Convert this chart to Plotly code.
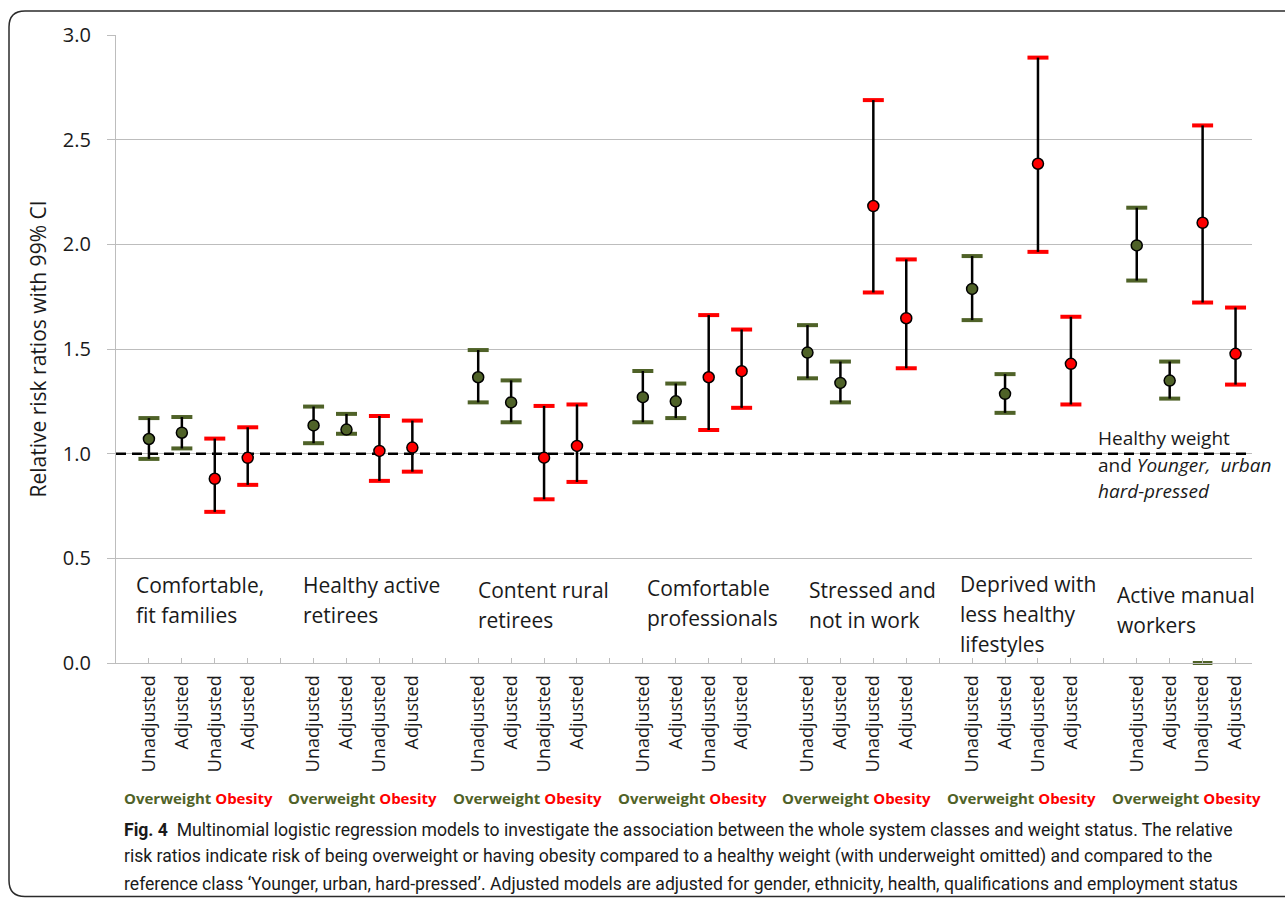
import plotly.graph_objects as go

# ---------------- data ----------------
groups = [
    ["Comfortable,", "fit families"],
    ["Healthy active", "retirees"],
    ["Content rural", "retirees"],
    ["Comfortable", "professionals"],
    ["Stressed and", "not in work"],
    ["Deprived with", "less healthy", "lifestyles"],
    ["Active manual", "workers"],
]
slot_labels = ["Unadjusted", "Adjusted", "Unadjusted", "Adjusted"]

# Overweight: per group [unadjusted, adjusted]
ow_est = [1.070, 1.100, 1.135, 1.115, 1.365, 1.245, 1.270, 1.250, 1.483, 1.338, 1.787, 1.286, 1.995, 1.349]
ow_lo = [0.975, 1.025, 1.050, 1.095, 1.245, 1.150, 1.150, 1.170, 1.360, 1.245, 1.638, 1.195, 1.827, 1.263]
ow_hi = [1.170, 1.175, 1.225, 1.190, 1.495, 1.350, 1.395, 1.335, 1.614, 1.440, 1.944, 1.380, 2.175, 1.440]

# Obesity: per group [unadjusted, adjusted]
ob_est = [0.880, 0.980, 1.013, 1.029, 0.981, 1.037, 1.365, 1.394, 2.183, 1.647, 2.385, 1.429, 2.103, 1.477]
ob_lo = [0.722, 0.851, 0.870, 0.914, 0.782, 0.865, 1.113, 1.219, 1.770, 1.408, 1.964, 1.235, 1.722, 1.330]
ob_hi = [1.072, 1.126, 1.180, 1.158, 1.228, 1.235, 1.662, 1.593, 2.689, 1.928, 2.892, 1.654, 2.568, 1.698]

ref_value = 1.0
ref_label = ["Healthy weight", "and <i>Younger,&nbsp; urban</i>", "<i>hard-pressed</i>"]

# stray overweight-coloured cap sitting at zero in the last group
stray_group = [6]
stray_slot = [2]
stray_value = [0.0]

caption = [
    "<b>Fig. 4</b>&nbsp; Multinomial logistic regression models to investigate the association between the whole system classes and weight status. The relative",
    "risk ratios indicate risk of being overweight or having obesity compared to a healthy weight (with underweight omitted) and compared to the",
    "reference class \u2018Younger, urban, hard-pressed\u2019. Adjusted models are adjusted for gender, ethnicity, health, qualifications and employment status",
]

# ---------------- styling ----------------
GREEN = "#4F6228"
RED = "#FF0000"
TXT = "#1a1a1a"
GRID = "#bdbdbd"
FONT = "Open Sans"

W, H = 1285, 900
L, R, T = 116, 33, 35
Y0 = 662.6  # pixel of y=0
B = H - Y0
PW, PH = W - L - R, Y0 - T
X_MAX = 34.5


def px(X):
    return (X - L) / PW


def py(Y):
    return (Y0 - Y) / PH


SLOT = 5
ow_x = [1 + SLOT * g + k for g in range(len(groups)) for k in (0, 1)]
ob_x = [1 + SLOT * g + k for g in range(len(groups)) for k in (2, 3)]

fig = go.Figure()

# reference (healthy weight) line
fig.add_trace(go.Scatter(
    x=[0, X_MAX - 0.05], y=[ref_value, ref_value], mode="lines", hoverinfo="skip", showlegend=False,
    line=dict(color="black", width=2.5, dash="10px,6px"),
))

# caps
for xs, lo, hi, col in [(ow_x, ow_lo, ow_hi, GREEN), (ob_x, ob_lo, ob_hi, RED)]:
    fig.add_trace(go.Scatter(
        x=xs + xs, y=lo + hi, mode="markers", hoverinfo="skip", showlegend=False,
        marker=dict(symbol="line-ew", size=15, line=dict(color=col, width=4)),
    ))

# stray cap
fig.add_trace(go.Scatter(
    x=[1 + SLOT * g + s for g, s in zip(stray_group, stray_slot)], y=stray_value,
    mode="markers", hoverinfo="skip", showlegend=False, cliponaxis=False,
    marker=dict(symbol="line-ew", size=14, line=dict(color=GREEN, width=4)),
))

# points with black stems
for xs, est, lo, hi, col, name in [(ow_x, ow_est, ow_lo, ow_hi, GREEN, "Overweight"),
                                    (ob_x, ob_est, ob_lo, ob_hi, RED, "Obesity")]:
    fig.add_trace(go.Scatter(
        x=xs, y=est, mode="markers", name=name, showlegend=False,
        marker=dict(symbol="circle", size=11, color=col, line=dict(color="black", width=1.5)),
        error_y=dict(type="data", symmetric=False,
                     array=[h - e for h, e in zip(hi, est)],
                     arrayminus=[e - l for e, l in zip(est, lo)],
                     color="black", thickness=2.5, width=0),
    ))

n_ticks = SLOT * len(groups)
tickvals = list(range(0, n_ticks))
ticktext = [""] + [(slot_labels[(i - 1) % SLOT] if (i - 1) % SLOT < 4 else "") for i in range(1, n_ticks)]

annotations = []
# group labels inside plot
label_pos = [(134, 585), (301, 585), (476, 590), (645, 588), (807, 590), (958, 584), (1115, 595)]
for lines, (lx, ly) in zip(groups, label_pos):
    for j, line in enumerate(lines):
        annotations.append(dict(
            x=px(lx), y=py(ly + 30 * j), xref="paper", yref="paper", text=line,
            showarrow=False, xanchor="left", yanchor="middle",
            font=dict(family=FONT, size=21, color=TXT),
        ))

# reference label
for j, line in enumerate(ref_label):
    annotations.append(dict(
        x=px(1096), y=py(438 + 26.5 * j), xref="paper", yref="paper", text=line,
        showarrow=False, xanchor="left", yanchor="middle",
        font=dict(family=FONT, size=19, color=TXT),
    ))

# Overweight / Obesity under each group
for g in range(len(groups)):
    cx = 2.5 + SLOT * g
    annotations.append(dict(
        x=cx, y=py(798), xref="x", yref="paper",
        text=f"<b><span style='color:{GREEN}'>Overweight</span> <span style='color:{RED}'>Obesity</span></b>",
        showarrow=False, xanchor="center", yanchor="middle",
        font=dict(family=FONT, size=15),
    ))

# caption
for j, line in enumerate(caption):
    annotations.append(dict(
        x=px(122), y=py(829 + 27 * j), xref="paper", yref="paper", text=line,
        showarrow=False, xanchor="left", yanchor="middle",
        font=dict(family="Roboto", size=17.6, color=TXT),
    ))

# frame path (rounded)
fl, ft, fr, fb, rad = 9, 11, 1300, 896, 16
path = (f"M {px(fr)},{py(ft)} L {px(fl + rad)},{py(ft)} Q {px(fl)},{py(ft)} {px(fl)},{py(ft + rad)} "
        f"L {px(fl)},{py(fb - rad)} Q {px(fl)},{py(fb)} {px(fl + rad)},{py(fb)} L {px(fr)},{py(fb)}")

shapes = [
    dict(type="path", xref="paper", yref="paper", path=path,
         line=dict(color="#2b2b2b", width=1.5), layer="above"),
]

fig.update_layout(
    width=W, height=H,
    margin=dict(l=L, r=R, t=T, b=B, pad=0),
    paper_bgcolor="white", plot_bgcolor="white",
    showlegend=False,
    annotations=annotations, shapes=shapes,
    font=dict(family=FONT, color=TXT),
    xaxis=dict(
        range=[0, X_MAX], tickmode="array", tickvals=tickvals, ticktext=ticktext,
        tickangle=-90, tickfont=dict(family=FONT, size=18, color=TXT),
        ticks="inside", ticklen=5, tickcolor=GRID, tickwidth=1.3,
        showgrid=False, zeroline=False,
        showline=True, linecolor=GRID, linewidth=1.3,
        ticklabelstandoff=4, fixedrange=True,
    ),
    yaxis=dict(
        range=[0, 3.0], dtick=0.5, tick0=0, tickformat=".1f",
        tickfont=dict(family=FONT, size=20, color=TXT),
        ticks="outside", ticklen=8, tickcolor=GRID, tickwidth=1.3,
        showgrid=True, gridcolor=GRID, gridwidth=1.3, zeroline=False,
        showline=True, linecolor=GRID, linewidth=1.3,
        ticklabelstandoff=12,
        title=dict(text="Relative risk ratios with 99% CI", font=dict(family=FONT, size=21, color=TXT), standoff=10),
        fixedrange=True,
    ),
)

fig.write_html(
    "out.html",
    config={"displayModeBar": False},
    post_script="document.body.style.margin='0';document.body.style.overflow='hidden';",
)
